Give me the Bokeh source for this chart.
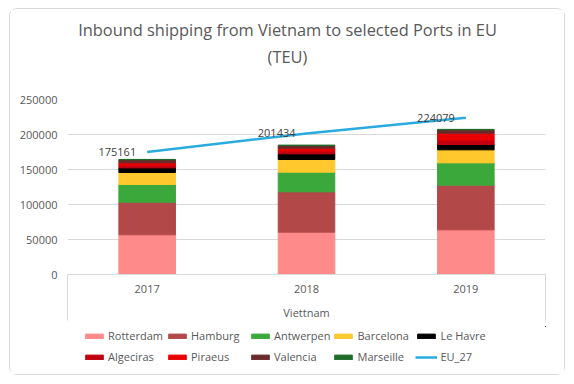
from bokeh.plotting import figure
from bokeh.layouts import column
from bokeh.models import (Range1d, FixedTicker, Label, BasicTickFormatter,
                          ColumnDataSource, Legend, LegendItem)
from bokeh.core.properties import value
from bokeh.embed import file_html
from bokeh.resources import INLINE

years = ["2017", "2018", "2019"]
ports = ["Rotterdam", "Hamburg", "Antwerpen", "Barcelona", "Le Havre",
         "Algeciras", "Piraeus", "Valencia", "Marseille"]
rotterdam = [56700, 60500, 63800]
hamburg = [46600, 57600, 63800]
antwerpen = [25300, 28100, 31900]
barcelona = [17100, 18100, 18600]
le_havre = [6700, 8100, 7600]
algeciras = [3500, 4000, 6000]
piraeus = [3700, 4000, 10200]
valencia = [4300, 3900, 4800]
marseille = [500, 500, 600]
eu_27 = [175161, 201434, 224079]
y_ticks = [0, 50000, 100000, 150000, 200000, 250000]
title_line1 = "Inbound shipping from Vietnam to selected Ports in EU"
title_line2 = "(TEU)"
x_title = "Viettnam"
line_name = "EU_27"

colors = ["#FF8A8A", "#B34848", "#3AA83A", "#FFC82C", "#000000",
          "#C00010", "#E80000", "#6B2A2A", "#1E6B2A"]
line_color = "#2AABDF"
FONT = "Open Sans"
GRAY = "#595959"

xpos = [i + 0.5 for i in range(len(years))]
series = [rotterdam, hamburg, antwerpen, barcelona, le_havre,
          algeciras, piraeus, valencia, marseille]
data = {"x": xpos, "eu": eu_27}
for name, vals in zip(ports, series):
    data[name] = vals
src = ColumnDataSource(data)


def strip(height):
    # text-only strip: its ranges keep any glyph out of view
    f = figure(width=554, height=height, output_backend="svg",
               toolbar_location=None, x_range=Range1d(-20, -19),
               y_range=Range1d(-2e6, -1e6), x_axis_location=None,
               y_axis_location=None, min_border_left=0, min_border_right=0,
               min_border_top=0, min_border_bottom=0)
    f.outline_line_color = None
    f.grid.visible = False
    return f


# ---------------- title strip ----------------
tf = strip(71)
for txt, yy in [(title_line1, 51), (title_line2, 24)]:
    tf.add_layout(Label(x=220, y=yy, x_units="screen", y_units="screen",
                        text=txt, text_align="center", text_baseline="middle",
                        text_font=FONT, text_font_size="16.4px",
                        text_color=GRAY))

# ---------------- main chart ----------------
p = figure(width=554, height=246, output_backend="svg", toolbar_location=None,
           x_range=Range1d(0, len(years)), y_range=Range1d(0, 250000),
           min_border_left=57, min_border_right=19, min_border_top=19,
           min_border_bottom=52)
p.outline_line_color = None
p.background_fill_color = "white"
p.border_fill_color = "white"

p.vbar_stack(ports, x="x", width=0.355, color=colors, source=src)
p.line(x="x", y="eu", line_width=2.5, color=line_color, source=src)
p.text(x=xpos, y=eu_27, text=[str(v) for v in eu_27], text_align="right",
       text_baseline="middle", x_offset=-11, text_font=value(FONT),
       text_font_size="11px", text_color="#404040")

p.xgrid.grid_line_color = None
p.ygrid.grid_line_color = "#D9D9D9"
p.ygrid.ticker = FixedTicker(ticks=y_ticks)

xa = p.xaxis[0]
xa.ticker = FixedTicker(ticks=xpos, minor_ticks=[0, len(years)])
xa.major_label_overrides = {x: y for x, y in zip(xpos, years)}
xa.major_tick_line_color = None
xa.major_tick_in = 0
xa.major_tick_out = 0
xa.minor_tick_in = 0
xa.minor_tick_out = 46
xa.minor_tick_line_color = "#D9D9D9"
xa.axis_line_color = "#D9D9D9"
xa.major_label_text_font = FONT
xa.major_label_text_font_size = "11px"
xa.major_label_text_color = GRAY
xa.major_label_standoff = -36
xa.axis_label = x_title
xa.axis_label_text_font = FONT
xa.axis_label_text_font_size = "11px"
xa.axis_label_text_font_style = "normal"
xa.axis_label_text_color = GRAY
xa.axis_label_standoff = 9

ya = p.yaxis[0]
ya.ticker = FixedTicker(ticks=y_ticks)
ya.formatter = BasicTickFormatter(use_scientific=False)
ya.axis_line_color = None
ya.major_tick_line_color = None
ya.major_tick_in = 0
ya.major_tick_out = 0
ya.minor_tick_line_color = None
ya.major_label_text_font = FONT
ya.major_label_text_font_size = "11px"
ya.major_label_text_color = GRAY
ya.major_label_standoff = 10

# ---------------- legend strip ----------------
q = strip(48)
bars = q.vbar_stack(ports, x="x", width=0.355, color=colors, source=src)
rl = q.line(x="x", y="eu", line_width=2.5, color=line_color, source=src)
items = [LegendItem(label=name, renderers=[r]) for name, r in zip(ports, bars)]
items.append(LegendItem(label=line_name, renderers=[rl]))

lg = Legend(items=items, orientation="horizontal", ncols=5, location=(16, 8),
            padding=0, margin=0, spacing=2, border_line_color=None,
            background_fill_alpha=0, glyph_width=22, glyph_height=6,
            label_standoff=3, label_width=56, label_height=19,
            label_text_font=FONT, label_text_font_size="11px",
            label_text_color=GRAY)
q.add_layout(lg, "center")

page = column(tf, p, q, spacing=0,
              styles={"margin-left": "9px", "margin-top": "8px",
                      "border": "1px solid #D9D9D9", "border-radius": "8px",
                      "background": "white"})

open("out.html", "w").write(file_html(page, INLINE))
